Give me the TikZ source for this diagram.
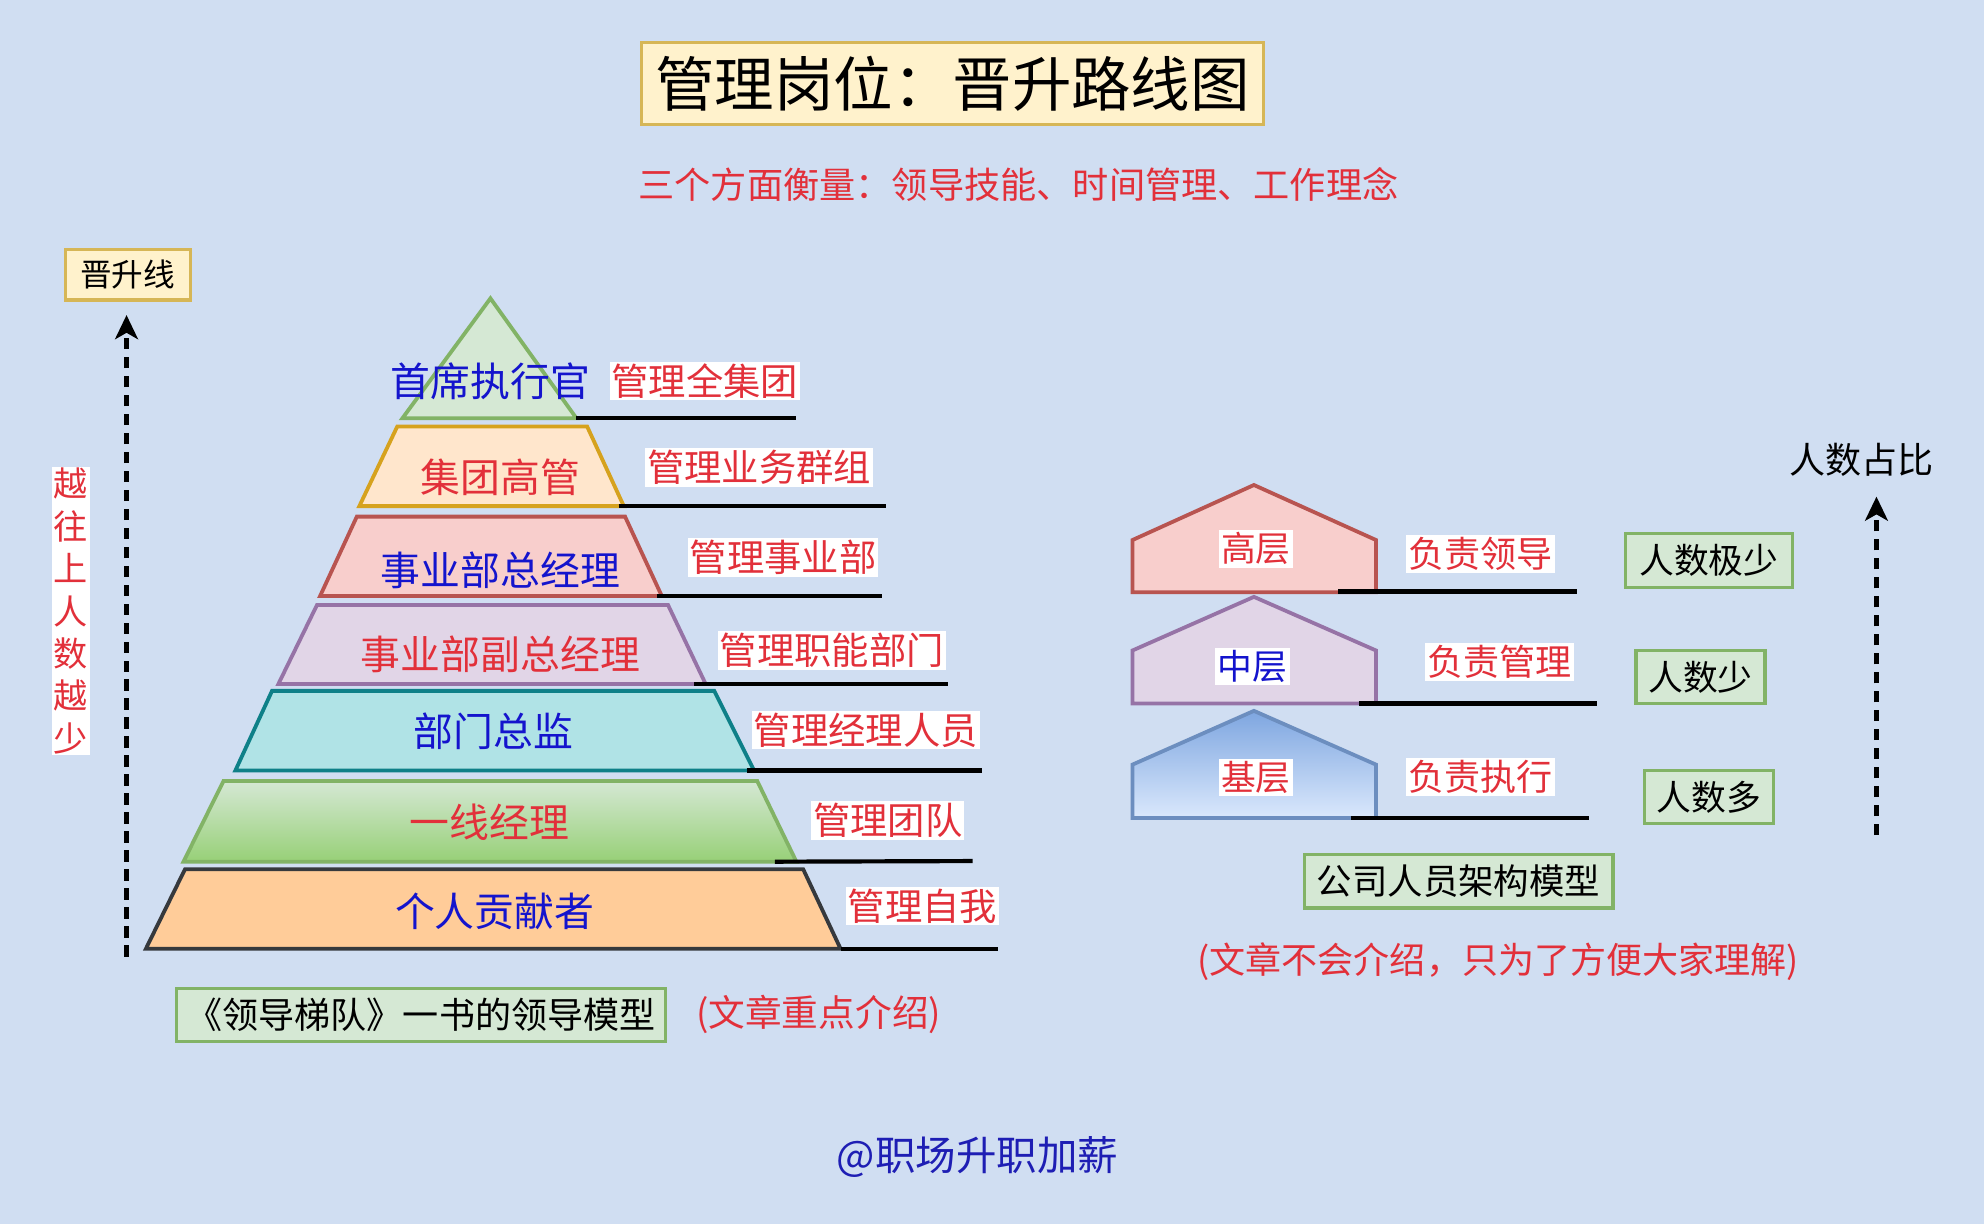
\documentclass[tikz,border=0pt]{standalone}
\usepackage{fontspec}
\usetikzlibrary{arrows.meta}
\setmainfont{Noto Sans CJK SC}
\newcommand{\myfs}[1]{\fontsize{#1}{#1}\selectfont}
\definecolor{bgc}{HTML}{D0DEF2}
\definecolor{ttlfill}{HTML}{FFF2CC}
\definecolor{ttlstroke}{HTML}{D6B656}
\definecolor{gfill}{HTML}{D5E8D4}
\definecolor{gstroke}{HTML}{82B366}
\definecolor{ofill}{HTML}{FFE6CC}
\definecolor{ostroke}{HTML}{D6A21E}
\definecolor{rfill}{HTML}{F8CECC}
\definecolor{rstroke}{HTML}{B85450}
\definecolor{pfill}{HTML}{E1D5E7}
\definecolor{pstroke}{HTML}{9673A6}
\definecolor{tfill}{HTML}{B0E3E6}
\definecolor{tstroke}{HTML}{0E8088}
\definecolor{g2fill}{HTML}{97D077}
\definecolor{pchfill}{HTML}{FFCC99}
\definecolor{dstroke}{HTML}{36393D}
\definecolor{bfillA}{HTML}{7EA6E0}
\definecolor{bfillB}{HTML}{DAE8FC}
\definecolor{bstroke}{HTML}{6C8EBF}
\definecolor{myred}{RGB}{226,48,58}
\definecolor{myblue}{RGB}{20,20,205}
\definecolor{footblue}{RGB}{30,30,180}
\begin{document}
\begin{tikzpicture}[x=1pt,y=-1pt,
  layer/.style={line width=3pt},
  bigtxt/.style={inner sep=0pt,font=\myfs{31.5}},
  rtxt/.style={bigtxt,text=myred},
  btxt/.style={bigtxt,text=myblue},
  lbl/.style={fill=white,text=myred,inner sep=1.5pt,font=\myfs{29.5}},
  hlbl/.style={fill=white,inner sep=2pt,font=\myfs{27.5}},
  uline/.style={line width=3.3pt,black},
  gbox/.style={fill=gfill,draw=gstroke,line width=2.6pt,inner sep=0pt,font=\myfs{28}},
  ybox/.style={fill=ttlfill,draw=ttlstroke,line width=2.6pt,inner sep=0pt},
  darrow/.style={line width=3.3pt,dash pattern=on 9pt off 6pt,-{Stealth[length=19pt,width=18pt,inset=5pt]}}
]
\useasboundingbox (0,0) rectangle (1568,967);
\fill[bgc] (0,0) rectangle (1568,967);

% title
\node[ybox,minimum width=492pt,minimum height=65pt,font=\myfs{47}] (title) at (752.8,66) {管理岗位：晋升路线图};
\node[text=myred,font=\myfs{28.6},inner sep=0pt] (sub) at (805,146) {三个方面衡量：领导技能、时间管理、工作理念};

% left arrow
\node[ybox,minimum width=99pt,minimum height=40pt,font=\myfs{25}] (jsx) at (101,217) {晋升线};
\coordinate (la0) at (100,756);
\coordinate (la1) at (100,249);
\draw[darrow] (la0) -- (la1);
\node[fill=white,text=myred,font=\myfs{27},inner sep=1pt,align=center,text width=28pt,
  execute at begin node={\setlength{\baselineskip}{33.5pt}}] (vt) at (56,483) {越\\往\\上\\人\\数\\越\\少};

% pyramid
\coordinate (t1) at (387.6,235.8);
\coordinate (b1l) at (318,330.6);
\coordinate (b1r) at (455.6,330.6);
\draw[layer,draw=gstroke,fill=gfill] (t1) -- (b1r) -- (b1l) -- cycle;

\coordinate (t2l) at (314,337); \coordinate (t2r) at (464,337);
\coordinate (b2l) at (284,400); \coordinate (b2r) at (493,400);
\draw[layer,draw=ostroke,fill=ofill] (t2l) -- (t2r) -- (b2r) -- (b2l) -- cycle;

\coordinate (t3l) at (282,408.3); \coordinate (t3r) at (494,408.3);
\coordinate (b3l) at (253,471); \coordinate (b3r) at (523,471);
\draw[layer,draw=rstroke,fill=rfill] (t3l) -- (t3r) -- (b3r) -- (b3l) -- cycle;

\coordinate (t4l) at (250.5,478.2); \coordinate (t4r) at (528,478.2);
\coordinate (b4l) at (220,540.6); \coordinate (b4r) at (557.7,540.6);
\draw[layer,draw=pstroke,fill=pfill] (t4l) -- (t4r) -- (b4r) -- (b4l) -- cycle;

\coordinate (t5l) at (215,546); \coordinate (t5r) at (564.5,546);
\coordinate (b5l) at (186,609); \coordinate (b5r) at (596,609);
\draw[layer,draw=tstroke,fill=tfill] (t5l) -- (t5r) -- (b5r) -- (b5l) -- cycle;

\coordinate (t6l) at (176.6,617.3); \coordinate (t6r) at (598.5,617.3);
\coordinate (b6l) at (145,681); \coordinate (b6r) at (629.4,681);
\draw[layer,draw=gstroke,top color=gfill,bottom color=g2fill] (t6l) -- (t6r) -- (b6r) -- (b6l) -- cycle;

\coordinate (t7l) at (146.2,687); \coordinate (t7r) at (634.8,687);
\coordinate (b7l) at (115.3,749.8); \coordinate (b7r) at (664.3,749.8);
\draw[layer,draw=dstroke,fill=pchfill] (t7l) -- (t7r) -- (b7r) -- (b7l) -- cycle;

% pyramid texts
\node[btxt] (n1) at (387.5,301) {首席执行官};
\node[rtxt] (n2) at (395.6,377) {集团高管};
\node[btxt] (n3) at (395.5,450.6) {事业部总经理};
\node[rtxt] (n4) at (395.5,517) {事业部副总经理};
\node[btxt] (n5) at (389.8,578) {部门总监};
\node[rtxt] (n6) at (387,650) {一线经理};
\node[btxt] (n7) at (391,720) {个人贡献者};

% right labels
\node[lbl] (l1) at (557,301) {管理全集团};
\node[lbl] (l2) at (600,369.5) {管理业务群组};
\node[lbl] (l3) at (619,440.6) {管理事业部};
\node[lbl] (l4) at (657.5,514) {管理职能部门};
\node[lbl] (l5) at (684.3,577) {管理经理人员};
\node[lbl] (l6) at (701.7,648.5) {管理团队};
\node[lbl] (l7) at (729,716) {管理自我};

% underlines
\coordinate (u1) at (629.3,330.6);
\coordinate (u2) at (700.6,400);
\coordinate (u3) at (697.4,471);
\coordinate (u4) at (749.6,540.6);
\coordinate (u5) at (776.3,609);
\coordinate (u6) at (768.7,680.5);
\coordinate (u7) at (789,749.8);
\draw[uline] (b1r) -- (u1);
\draw[uline] ([xshift=-4pt]b2r) -- (u2);
\draw[uline] ([xshift=-4pt]b3r) -- (u3);
\draw[uline] ([xshift=-9pt]b4r) -- (u4);
\draw[uline] ([xshift=-6pt]b5r) -- (u5);
\draw[uline] ([xshift=-17pt]b6r) -- (u6);
\draw[uline] (b7r) -- (u7);

% caption
\node[gbox,minimum width=386pt,minimum height=42pt,font=\myfs{28.5}] (cap) at (332.7,802) {《领导梯队》一书的领导模型};
\node[text=myred,font=\myfs{29},inner sep=0pt] (capn) at (647,802) {(文章重点介绍)};

% houses
\coordinate (h1p) at (991,383.3);
\coordinate (h1a) at (895,426.8); \coordinate (h1b) at (895,468);
\coordinate (h1c) at (1087.5,468); \coordinate (h1d) at (1087.5,426.8);
\draw[layer,draw=rstroke,fill=rfill] (h1p) -- (h1d) -- (h1c) -- (h1b) -- (h1a) -- cycle;

\coordinate (h2p) at (991,471.7);
\coordinate (h2a) at (895,514.1); \coordinate (h2b) at (895,556);
\coordinate (h2c) at (1087.5,556); \coordinate (h2d) at (1087.5,514.1);
\draw[layer,draw=pstroke,fill=pfill] (h2p) -- (h2d) -- (h2c) -- (h2b) -- (h2a) -- cycle;

\coordinate (h3p) at (991,561.8);
\coordinate (h3a) at (895,604.3); \coordinate (h3b) at (895,646.5);
\coordinate (h3c) at (1087.5,646.5); \coordinate (h3d) at (1087.5,604.3);
\draw[layer,draw=bstroke,top color=bfillA,bottom color=bfillB] (h3p) -- (h3d) -- (h3c) -- (h3b) -- (h3a) -- cycle;

\node[hlbl,text=myred] (hn1) at (992.5,433.7) {高层};
\node[hlbl,text=myblue] (hn2) at (990,526.6) {中层};
\node[hlbl,text=myred] (hn3) at (992.5,614.6) {基层};

\node[hlbl,text=myred,font=\myfs{28.5}] (hr1) at (1170.3,438) {负责领导};
\node[hlbl,text=myred,font=\myfs{28.5}] (hr2) at (1184.8,523) {负责管理};
\node[hlbl,text=myred,font=\myfs{28.5}] (hr3) at (1170.3,614) {负责执行};

\coordinate (hu1a) at (1057.8,467.5); \coordinate (hu1b) at (1246.3,467.5);
\coordinate (hu2a) at (1074,556); \coordinate (hu2b) at (1262,556);
\coordinate (hu3a) at (1067.7,646.5); \coordinate (hu3b) at (1256,646.5);
\draw[uline] (hu1a) -- (hu1b);
\draw[uline] (hu2a) -- (hu2b);
\draw[uline] (hu3a) -- (hu3b);

\node[gbox,minimum width=132pt,minimum height=43pt,font=\myfs{27.5}] (c1) at (1350.5,443) {人数极少};
\node[gbox,minimum width=102pt,minimum height=42pt,font=\myfs{27.5}] (c2) at (1344,535) {人数少};
\node[gbox,minimum width=102pt,minimum height=42pt,font=\myfs{27.5}] (c3) at (1350.4,630) {人数多};

\node[gbox,minimum width=244pt,minimum height=42pt] (model) at (1152.7,696.5) {公司人员架构模型};
\node[text=myred,font=\myfs{28.5},inner sep=0pt] (modeln) at (1184,760) {(文章不会介绍，只为了方便大家理解)};

% right arrow
\node[font=\myfs{28.5},inner sep=0pt] (rsz) at (1471,363.5) {人数占比};
\coordinate (ra0) at (1483,660);
\coordinate (ra1) at (1483,392.5);
\draw[darrow] (ra0) -- (ra1);

% footer
\node[text=footblue,font=\myfs{32},inner sep=0pt] (foot) at (772.5,914) {@职场升职加薪};
\end{tikzpicture}
\end{document}
